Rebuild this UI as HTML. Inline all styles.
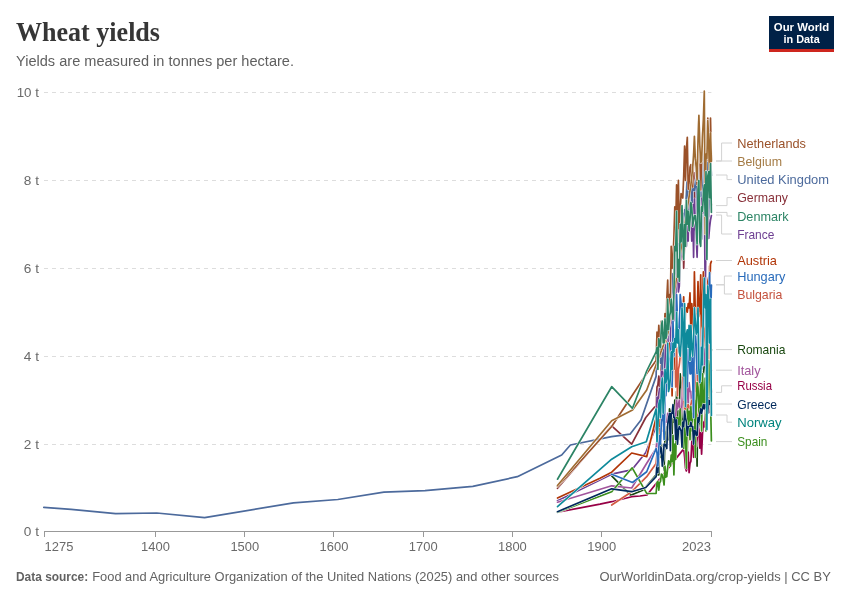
<!DOCTYPE html>
<html><head><meta charset="utf-8"><title>Wheat yields</title>
<style>
html,body{margin:0;padding:0;background:#fff;}
body{width:850px;height:600px;overflow:hidden;font-family:"Liberation Sans",sans-serif;}
svg{display:block;will-change:transform;font-family:"Liberation Sans",sans-serif;}
.serif{font-family:"Liberation Serif",serif;}
.ln{fill:none;stroke-width:1.7;stroke-linejoin:round;stroke-linecap:round;}
.ol{fill:none;stroke:#fff;stroke-width:2.5;stroke-linejoin:round;stroke-linecap:round;}
.grid line{stroke:#ddd;stroke-width:1;stroke-dasharray:4 4;}
.ax{fill:#6a6a6a;font-size:12.4px;}
.cn{fill:none;stroke:#d2d2d2;stroke-width:1;}
.lb{font-size:13.3px;}
</style></head><body>
<svg width="850" height="600" viewBox="0 0 850 600">
<rect width="850" height="600" fill="#fff"/>
<text class="serif" x="16" y="40.6" font-size="27.5" font-weight="700" fill="#363636" textLength="144" lengthAdjust="spacingAndGlyphs">Wheat yields</text>
<text x="16" y="66.4" font-size="14" fill="#606060" textLength="278" lengthAdjust="spacingAndGlyphs">Yields are measured in tonnes per hectare.</text>
<g><rect x="769" y="16" width="65" height="36" fill="#002147"/><rect x="769" y="49" width="65" height="3" fill="#ce261e"/><text x="801.5" y="30.7" font-size="11.8" font-weight="700" fill="#fff" text-anchor="middle" textLength="55.3" lengthAdjust="spacingAndGlyphs">Our World</text><text x="801.6" y="42.8" font-size="11.8" font-weight="700" fill="#fff" text-anchor="middle" textLength="36.3" lengthAdjust="spacingAndGlyphs">in Data</text></g>
<g class="grid"><line x1="44" x2="711.4" y1="444.5" y2="444.5"/><line x1="44" x2="711.4" y1="356.5" y2="356.5"/><line x1="44" x2="711.4" y1="268.5" y2="268.5"/><line x1="44" x2="711.4" y1="180.5" y2="180.5"/><line x1="44" x2="711.4" y1="92.5" y2="92.5"/></g>
<text class="ax" x="39" y="536.4" text-anchor="end" textLength="15.2" lengthAdjust="spacingAndGlyphs">0 t</text><text class="ax" x="39" y="448.5" text-anchor="end" textLength="15.2" lengthAdjust="spacingAndGlyphs">2 t</text><text class="ax" x="39" y="360.6" text-anchor="end" textLength="15.2" lengthAdjust="spacingAndGlyphs">4 t</text><text class="ax" x="39" y="272.7" text-anchor="end" textLength="15.2" lengthAdjust="spacingAndGlyphs">6 t</text><text class="ax" x="39" y="184.8" text-anchor="end" textLength="15.2" lengthAdjust="spacingAndGlyphs">8 t</text><text class="ax" x="39" y="96.9" text-anchor="end" textLength="22.3" lengthAdjust="spacingAndGlyphs">10 t</text>
<g stroke="#999" stroke-width="1" fill="none"><path d="M44,531.5H711.9"/><path d="M44.5,531.5v5.5"/><path d="M155.5,531.5v5.5"/><path d="M244.5,531.5v5.5"/><path d="M333.5,531.5v5.5"/><path d="M423.5,531.5v5.5"/><path d="M512.5,531.5v5.5"/><path d="M601.5,531.5v5.5"/><path d="M711.5,531.5v5.5"/></g>
<text class="ax" x="44.6" y="550.6" textLength="28.8" lengthAdjust="spacingAndGlyphs">1275</text><text class="ax" x="155.5" y="550.6" text-anchor="middle" textLength="28.8" lengthAdjust="spacingAndGlyphs">1400</text><text class="ax" x="244.8" y="550.6" text-anchor="middle" textLength="28.8" lengthAdjust="spacingAndGlyphs">1500</text><text class="ax" x="334.0" y="550.6" text-anchor="middle" textLength="28.8" lengthAdjust="spacingAndGlyphs">1600</text><text class="ax" x="423.2" y="550.6" text-anchor="middle" textLength="28.8" lengthAdjust="spacingAndGlyphs">1700</text><text class="ax" x="512.4" y="550.6" text-anchor="middle" textLength="28.8" lengthAdjust="spacingAndGlyphs">1800</text><text class="ax" x="601.7" y="550.6" text-anchor="middle" textLength="28.8" lengthAdjust="spacingAndGlyphs">1900</text><text class="ax" x="711" y="550.6" text-anchor="end" textLength="29" lengthAdjust="spacingAndGlyphs">2023</text>
<path class="ol" d="M557.5,488.3L611.7,425.8L631.7,444.2L645.8,417.5L654.2,407.5L656.1,406.3L657.0,387.0L657.9,384.8L658.8,376.0L659.6,389.2L660.5,387.0L661.4,358.4L662.3,349.6L663.2,358.4L664.1,365.0L665.0,334.2L665.9,351.8L666.8,338.6L667.7,325.4L668.6,338.6L669.5,351.8L670.4,338.6L671.2,316.6L672.1,325.4L673.0,316.6L673.9,314.4L674.8,299.1L675.7,296.9L676.6,263.9L677.5,272.7L678.4,263.9L679.3,281.5L680.2,241.9L681.1,259.5L682.0,255.1L682.8,233.1L683.7,268.3L684.6,241.9L685.5,233.1L686.4,228.7L687.3,211.2L688.2,211.2L689.1,215.6L690.0,202.4L690.9,212.0L691.8,185.7L692.7,228.3L693.6,246.3L694.4,172.9L695.3,203.7L696.2,215.6L697.1,226.1L698.0,176.4L698.9,188.8L699.8,210.7L700.7,223.5L701.6,209.8L702.5,180.4L703.4,152.7L704.3,176.4L705.2,196.2L706.0,196.2L706.9,238.9L707.8,206.8L708.7,188.3L709.6,211.2L710.5,198.0L711.4,205.0"/><path class="ln" stroke="#883039" d="M557.5,488.3L611.7,425.8L631.7,444.2L645.8,417.5L654.2,407.5L656.1,406.3L657.0,387.0L657.9,384.8L658.8,376.0L659.6,389.2L660.5,387.0L661.4,358.4L662.3,349.6L663.2,358.4L664.1,365.0L665.0,334.2L665.9,351.8L666.8,338.6L667.7,325.4L668.6,338.6L669.5,351.8L670.4,338.6L671.2,316.6L672.1,325.4L673.0,316.6L673.9,314.4L674.8,299.1L675.7,296.9L676.6,263.9L677.5,272.7L678.4,263.9L679.3,281.5L680.2,241.9L681.1,259.5L682.0,255.1L682.8,233.1L683.7,268.3L684.6,241.9L685.5,233.1L686.4,228.7L687.3,211.2L688.2,211.2L689.1,215.6L690.0,202.4L690.9,212.0L691.8,185.7L692.7,228.3L693.6,246.3L694.4,172.9L695.3,203.7L696.2,215.6L697.1,226.1L698.0,176.4L698.9,188.8L699.8,210.7L700.7,223.5L701.6,209.8L702.5,180.4L703.4,152.7L704.3,176.4L705.2,196.2L706.0,196.2L706.9,238.9L707.8,206.8L708.7,188.3L709.6,211.2L710.5,198.0L711.4,205.0"/>
<path class="ol" d="M43.8,507.4L71.2,509.4L115.6,513.7L156.8,513.0L204.6,517.6L293.5,502.8L337.8,499.5L383.9,492.2L425.0,490.6L472.8,486.3L517.3,476.7L561.7,455.0L570.4,445.0L611.5,436.6L630.0,434.2L641.0,420.0L656.1,376.4L657.0,340.8L657.9,358.8L658.8,345.7L659.6,353.6L660.5,363.2L661.4,348.3L662.3,376.4L663.2,354.4L664.1,347.8L665.0,339.1L665.9,345.7L666.8,340.4L667.7,313.6L668.6,341.3L669.5,362.8L670.4,316.6L671.2,300.8L672.1,302.6L673.0,273.6L673.9,275.3L674.8,259.5L675.7,252.0L676.6,193.1L677.5,253.8L678.4,226.1L679.3,268.7L680.2,258.2L681.1,235.8L682.0,225.7L682.8,213.4L683.7,232.3L684.6,209.8L685.5,209.0L686.4,193.6L687.3,173.8L688.2,207.6L689.1,199.7L690.0,178.2L690.9,180.0L691.8,220.8L692.7,180.4L693.6,190.1L694.4,190.5L695.3,182.2L696.2,178.6L697.1,214.2L698.0,168.1L698.9,183.5L699.8,194.9L700.7,191.4L701.6,239.3L702.5,207.6L703.4,154.9L704.3,137.3L705.2,185.2L706.0,168.1L706.9,191.4L707.8,139.5L708.7,226.1L709.6,188.8L710.5,154.0L711.4,175.6"/><path class="ln" stroke="#4C6A9C" d="M43.8,507.4L71.2,509.4L115.6,513.7L156.8,513.0L204.6,517.6L293.5,502.8L337.8,499.5L383.9,492.2L425.0,490.6L472.8,486.3L517.3,476.7L561.7,455.0L570.4,445.0L611.5,436.6L630.0,434.2L641.0,420.0L656.1,376.4L657.0,340.8L657.9,358.8L658.8,345.7L659.6,353.6L660.5,363.2L661.4,348.3L662.3,376.4L663.2,354.4L664.1,347.8L665.0,339.1L665.9,345.7L666.8,340.4L667.7,313.6L668.6,341.3L669.5,362.8L670.4,316.6L671.2,300.8L672.1,302.6L673.0,273.6L673.9,275.3L674.8,259.5L675.7,252.0L676.6,193.1L677.5,253.8L678.4,226.1L679.3,268.7L680.2,258.2L681.1,235.8L682.0,225.7L682.8,213.4L683.7,232.3L684.6,209.8L685.5,209.0L686.4,193.6L687.3,173.8L688.2,207.6L689.1,199.7L690.0,178.2L690.9,180.0L691.8,220.8L692.7,180.4L693.6,190.1L694.4,190.5L695.3,182.2L696.2,178.6L697.1,214.2L698.0,168.1L698.9,183.5L699.8,194.9L700.7,191.4L701.6,239.3L702.5,207.6L703.4,154.9L704.3,137.3L705.2,185.2L706.0,168.1L706.9,191.4L707.8,139.5L708.7,226.1L709.6,188.8L710.5,154.0L711.4,175.6"/>
<path class="ol" d="M611.7,475.8L630.8,495.3L643.3,490.0L656.1,474.9L657.0,474.9L657.9,474.9L658.8,474.9L659.6,444.1L660.5,457.3L661.4,444.1L662.3,457.3L663.2,461.7L664.1,470.5L665.0,435.3L665.9,426.5L666.8,430.9L667.7,439.7L668.6,439.7L669.5,408.9L670.4,413.3L671.2,413.3L672.1,435.3L673.0,404.5L673.9,422.1L674.8,400.1L675.7,426.5L676.6,391.4L677.5,426.5L678.4,413.3L679.3,408.9L680.2,373.8L681.1,382.6L682.0,391.4L682.8,422.1L683.7,435.3L684.6,430.9L685.5,422.1L686.4,395.8L687.3,452.9L688.2,400.1L689.1,417.7L690.0,408.9L690.9,430.9L691.8,400.1L692.7,448.5L693.6,455.1L694.4,382.6L695.3,400.1L696.2,413.3L697.1,466.1L698.0,382.6L698.9,426.5L699.8,413.3L700.7,369.4L701.6,413.3L702.5,378.2L703.4,373.8L704.3,365.0L705.2,360.6L706.0,316.6L706.9,321.0L707.8,325.4L708.7,400.1L709.6,299.1L710.5,356.2L711.4,349.6"/><path class="ln" stroke="#18470F" d="M611.7,475.8L630.8,495.3L643.3,490.0L656.1,474.9L657.0,474.9L657.9,474.9L658.8,474.9L659.6,444.1L660.5,457.3L661.4,444.1L662.3,457.3L663.2,461.7L664.1,470.5L665.0,435.3L665.9,426.5L666.8,430.9L667.7,439.7L668.6,439.7L669.5,408.9L670.4,413.3L671.2,413.3L672.1,435.3L673.0,404.5L673.9,422.1L674.8,400.1L675.7,426.5L676.6,391.4L677.5,426.5L678.4,413.3L679.3,408.9L680.2,373.8L681.1,382.6L682.0,391.4L682.8,422.1L683.7,435.3L684.6,430.9L685.5,422.1L686.4,395.8L687.3,452.9L688.2,400.1L689.1,417.7L690.0,408.9L690.9,430.9L691.8,400.1L692.7,448.5L693.6,455.1L694.4,382.6L695.3,400.1L696.2,413.3L697.1,466.1L698.0,382.6L698.9,426.5L699.8,413.3L700.7,369.4L701.6,413.3L702.5,378.2L703.4,373.8L704.3,365.0L705.2,360.6L706.0,316.6L706.9,321.0L707.8,325.4L708.7,400.1L709.6,299.1L710.5,356.2L711.4,349.6"/>
<path class="ol" d="M557.5,500.8L611.7,474.2L626.7,470.8L631.7,470.0L645.8,452.5L656.1,426.5L657.0,397.1L657.9,407.2L658.8,393.6L659.6,388.3L660.5,407.6L661.4,371.6L662.3,371.1L663.2,374.7L664.1,380.4L665.0,361.5L665.9,330.7L666.8,333.8L667.7,329.8L668.6,361.5L669.5,365.9L670.4,346.5L671.2,310.9L672.1,322.8L673.0,304.8L673.9,321.0L674.8,301.7L675.7,306.5L676.6,246.3L677.5,265.7L678.4,292.0L679.3,286.3L680.2,261.7L681.1,252.9L682.0,246.8L682.8,236.2L683.7,246.3L684.6,245.4L685.5,239.3L686.4,246.3L687.3,218.6L688.2,241.1L689.1,198.0L690.0,213.8L690.9,219.1L691.8,241.1L692.7,204.6L693.6,257.3L694.4,198.9L695.3,225.2L696.2,235.8L697.1,257.3L698.0,220.0L698.9,204.6L699.8,222.6L700.7,239.7L701.6,198.0L702.5,213.4L703.4,208.5L704.3,189.2L705.2,299.5L706.0,234.9L706.9,231.4L707.8,191.8L708.7,238.4L709.6,227.4L710.5,220.0L711.4,215.6"/><path class="ln" stroke="#6D3E91" d="M557.5,500.8L611.7,474.2L626.7,470.8L631.7,470.0L645.8,452.5L656.1,426.5L657.0,397.1L657.9,407.2L658.8,393.6L659.6,388.3L660.5,407.6L661.4,371.6L662.3,371.1L663.2,374.7L664.1,380.4L665.0,361.5L665.9,330.7L666.8,333.8L667.7,329.8L668.6,361.5L669.5,365.9L670.4,346.5L671.2,310.9L672.1,322.8L673.0,304.8L673.9,321.0L674.8,301.7L675.7,306.5L676.6,246.3L677.5,265.7L678.4,292.0L679.3,286.3L680.2,261.7L681.1,252.9L682.0,246.8L682.8,236.2L683.7,246.3L684.6,245.4L685.5,239.3L686.4,246.3L687.3,218.6L688.2,241.1L689.1,198.0L690.0,213.8L690.9,219.1L691.8,241.1L692.7,204.6L693.6,257.3L694.4,198.9L695.3,225.2L696.2,235.8L697.1,257.3L698.0,220.0L698.9,204.6L699.8,222.6L700.7,239.7L701.6,198.0L702.5,213.4L703.4,208.5L704.3,189.2L705.2,299.5L706.0,234.9L706.9,231.4L707.8,191.8L708.7,238.4L709.6,227.4L710.5,220.0L711.4,215.6"/>
<path class="ol" d="M557.5,486.7L611.7,426.5L646.7,373.5L656.1,360.6L657.0,332.0L657.9,347.4L658.8,325.4L659.6,338.6L660.5,356.2L661.4,321.0L662.3,338.6L663.2,338.6L664.1,334.2L665.0,313.6L665.9,343.0L666.8,299.1L667.7,280.2L668.6,316.6L669.5,294.7L670.4,299.1L671.2,246.3L672.1,268.3L673.0,259.5L673.9,237.5L674.8,206.8L675.7,224.3L676.6,184.8L677.5,241.9L678.4,180.4L679.3,228.7L680.2,211.2L681.1,193.6L682.0,195.8L682.8,198.0L683.7,176.0L684.6,146.1L685.5,180.4L686.4,149.6L687.3,137.3L688.2,189.2L689.1,189.2L690.0,167.2L690.9,164.6L691.8,184.8L692.7,187.0L693.6,158.4L694.4,140.8L695.3,160.6L696.2,169.4L697.1,184.8L698.0,143.0L698.9,118.9L699.8,147.4L700.7,190.1L701.6,162.8L702.5,138.6L703.4,121.1L704.3,136.4L705.2,180.4L706.0,156.2L706.9,160.6L707.8,118.0L708.7,143.0L709.6,171.6L710.5,118.0L711.4,160.6"/><path class="ln" stroke="#9A5129" d="M557.5,486.7L611.7,426.5L646.7,373.5L656.1,360.6L657.0,332.0L657.9,347.4L658.8,325.4L659.6,338.6L660.5,356.2L661.4,321.0L662.3,338.6L663.2,338.6L664.1,334.2L665.0,313.6L665.9,343.0L666.8,299.1L667.7,280.2L668.6,316.6L669.5,294.7L670.4,299.1L671.2,246.3L672.1,268.3L673.0,259.5L673.9,237.5L674.8,206.8L675.7,224.3L676.6,184.8L677.5,241.9L678.4,180.4L679.3,228.7L680.2,211.2L681.1,193.6L682.0,195.8L682.8,198.0L683.7,176.0L684.6,146.1L685.5,180.4L686.4,149.6L687.3,137.3L688.2,189.2L689.1,189.2L690.0,167.2L690.9,164.6L691.8,184.8L692.7,187.0L693.6,158.4L694.4,140.8L695.3,160.6L696.2,169.4L697.1,184.8L698.0,143.0L698.9,118.9L699.8,147.4L700.7,190.1L701.6,162.8L702.5,138.6L703.4,121.1L704.3,136.4L705.2,180.4L706.0,156.2L706.9,160.6L707.8,118.0L708.7,143.0L709.6,171.6L710.5,118.0L711.4,160.6"/>
<path class="ol" d="M557.5,485.5L611.7,420.8L632.5,410.0L646.7,390.0L668.0,333.0L690.9,184.8L691.8,176.0L692.7,167.2L693.6,154.9L694.4,136.4L695.3,158.4L696.2,167.2L697.1,180.4L698.0,140.8L698.9,115.4L699.8,145.2L700.7,162.8L701.6,160.6L702.5,136.4L703.4,118.9L704.3,91.2L705.2,234.0L706.0,154.0L706.9,158.4L707.8,120.6L708.7,140.8L709.6,184.8L710.5,132.9L711.4,161.5"/><path class="ln" stroke="#9F6B31" d="M557.5,485.5L611.7,420.8L632.5,410.0L646.7,390.0L668.0,333.0L690.9,184.8L691.8,176.0L692.7,167.2L693.6,154.9L694.4,136.4L695.3,158.4L696.2,167.2L697.1,180.4L698.0,140.8L698.9,115.4L699.8,145.2L700.7,162.8L701.6,160.6L702.5,136.4L703.4,118.9L704.3,91.2L705.2,234.0L706.0,154.0L706.9,158.4L707.8,120.6L708.7,140.8L709.6,184.8L710.5,132.9L711.4,161.5"/>
<path class="ol" d="M557.5,502.2L611.7,485.8L631.7,488.0L646.7,463.3L656.1,448.5L657.0,439.7L657.9,452.9L658.8,444.1L659.6,430.9L660.5,435.3L661.4,426.5L662.3,430.9L663.2,430.9L664.1,430.9L665.0,422.1L665.9,422.1L666.8,422.1L667.7,413.3L668.6,413.3L669.5,417.7L670.4,430.9L671.2,413.3L672.1,413.3L673.0,413.3L673.9,413.3L674.8,413.3L675.7,417.7L676.6,400.1L677.5,408.9L678.4,404.5L679.3,400.1L680.2,413.3L681.1,417.7L682.0,404.5L682.8,378.2L683.7,391.4L684.6,387.0L685.5,387.0L686.4,391.4L687.3,387.0L688.2,404.5L689.1,382.6L690.0,391.4L690.9,391.4L691.8,408.9L692.7,395.8L693.6,413.3L694.4,369.4L695.3,373.8L696.2,369.4L697.1,382.6L698.0,360.6L698.9,378.2L699.8,369.4L700.7,365.0L701.6,351.8L702.5,365.0L703.4,365.0L704.3,365.0L705.2,347.4L706.0,360.6L706.9,365.0L707.8,365.0L708.7,360.6L709.6,347.4L710.5,373.8L711.4,370.3"/><path class="ln" stroke="#A2559C" d="M557.5,502.2L611.7,485.8L631.7,488.0L646.7,463.3L656.1,448.5L657.0,439.7L657.9,452.9L658.8,444.1L659.6,430.9L660.5,435.3L661.4,426.5L662.3,430.9L663.2,430.9L664.1,430.9L665.0,422.1L665.9,422.1L666.8,422.1L667.7,413.3L668.6,413.3L669.5,417.7L670.4,430.9L671.2,413.3L672.1,413.3L673.0,413.3L673.9,413.3L674.8,413.3L675.7,417.7L676.6,400.1L677.5,408.9L678.4,404.5L679.3,400.1L680.2,413.3L681.1,417.7L682.0,404.5L682.8,378.2L683.7,391.4L684.6,387.0L685.5,387.0L686.4,391.4L687.3,387.0L688.2,404.5L689.1,382.6L690.0,391.4L690.9,391.4L691.8,408.9L692.7,395.8L693.6,413.3L694.4,369.4L695.3,373.8L696.2,369.4L697.1,382.6L698.0,360.6L698.9,378.2L699.8,369.4L700.7,365.0L701.6,351.8L702.5,365.0L703.4,365.0L704.3,365.0L705.2,347.4L706.0,360.6L706.9,365.0L707.8,365.0L708.7,360.6L709.6,347.4L710.5,373.8L711.4,370.3"/>
<path class="ol" d="M557.5,512.2L600.0,504.2L611.7,501.7L631.7,496.7L640.0,496.0L647.0,495.0L683.7,448.9L684.6,456.8L685.5,468.3L686.4,470.9L687.3,466.5L688.2,452.0L689.1,472.7L690.0,463.4L690.9,461.2L691.8,441.5L692.7,441.0L693.6,457.3L694.4,445.0L695.3,447.2L696.2,446.3L697.1,439.7L698.0,424.3L698.9,430.0L699.8,448.1L700.7,432.7L701.6,454.2L702.5,434.0L703.4,422.1L704.3,427.0L705.2,414.2L706.0,394.9L706.9,412.5L707.8,413.3L708.7,401.0L709.6,412.5L710.5,378.2L711.4,392.2"/><path class="ln" stroke="#970046" d="M557.5,512.2L600.0,504.2L611.7,501.7L631.7,496.7L640.0,496.0L647.0,495.0L683.7,448.9L684.6,456.8L685.5,468.3L686.4,470.9L687.3,466.5L688.2,452.0L689.1,472.7L690.0,463.4L690.9,461.2L691.8,441.5L692.7,441.0L693.6,457.3L694.4,445.0L695.3,447.2L696.2,446.3L697.1,439.7L698.0,424.3L698.9,430.0L699.8,448.1L700.7,432.7L701.6,454.2L702.5,434.0L703.4,422.1L704.3,427.0L705.2,414.2L706.0,394.9L706.9,412.5L707.8,413.3L708.7,401.0L709.6,412.5L710.5,378.2L711.4,392.2"/>
<path class="ol" d="M611.7,505.0L631.7,491.7L646.7,476.7L656.1,463.4L657.0,452.9L657.9,461.7L658.8,452.9L659.6,422.1L660.5,408.9L661.4,400.1L662.3,426.5L663.2,422.1L664.1,404.5L665.0,395.8L665.9,373.8L666.8,373.8L667.7,382.6L668.6,378.2L669.5,365.0L670.4,360.6L671.2,373.8L672.1,382.6L673.0,356.2L673.9,343.0L674.8,329.8L675.7,387.0L676.6,347.4L677.5,395.8L678.4,369.4L679.3,365.0L680.2,356.2L681.1,325.4L682.0,334.2L682.8,369.4L683.7,395.8L684.6,408.9L685.5,408.9L686.4,404.5L687.3,448.5L688.2,404.5L689.1,408.9L690.0,408.9L690.9,404.5L691.8,400.1L692.7,400.1L693.6,426.5L694.4,365.0L695.3,391.4L696.2,382.6L697.1,435.3L698.0,347.4L698.9,391.4L699.8,373.8L700.7,360.6L701.6,365.0L702.5,347.4L703.4,347.4L704.3,334.2L705.2,321.0L706.0,294.7L706.9,321.0L707.8,307.9L708.7,360.6L709.6,266.1L710.5,299.1L711.4,285.0"/><path class="ln" stroke="#D25A41" d="M611.7,505.0L631.7,491.7L646.7,476.7L656.1,463.4L657.0,452.9L657.9,461.7L658.8,452.9L659.6,422.1L660.5,408.9L661.4,400.1L662.3,426.5L663.2,422.1L664.1,404.5L665.0,395.8L665.9,373.8L666.8,373.8L667.7,382.6L668.6,378.2L669.5,365.0L670.4,360.6L671.2,373.8L672.1,382.6L673.0,356.2L673.9,343.0L674.8,329.8L675.7,387.0L676.6,347.4L677.5,395.8L678.4,369.4L679.3,365.0L680.2,356.2L681.1,325.4L682.0,334.2L682.8,369.4L683.7,395.8L684.6,408.9L685.5,408.9L686.4,404.5L687.3,448.5L688.2,404.5L689.1,408.9L690.0,408.9L690.9,404.5L691.8,400.1L692.7,400.1L693.6,426.5L694.4,365.0L695.3,391.4L696.2,382.6L697.1,435.3L698.0,347.4L698.9,391.4L699.8,373.8L700.7,360.6L701.6,365.0L702.5,347.4L703.4,347.4L704.3,334.2L705.2,321.0L706.0,294.7L706.9,321.0L707.8,307.9L708.7,360.6L709.6,266.1L710.5,299.1L711.4,285.0"/>
<path class="ol" d="M557.5,512.3L611.7,491.7L632.2,467.8L646.7,493.3L656.1,493.5L657.0,482.3L657.9,481.5L658.8,490.2L659.6,482.8L660.5,481.5L661.4,474.0L662.3,474.9L663.2,479.3L664.1,485.0L665.0,466.1L665.9,477.1L666.8,476.6L667.7,467.4L668.6,460.8L669.5,461.7L670.4,466.1L671.2,455.1L672.1,461.7L673.0,435.3L673.9,474.9L674.8,444.1L675.7,459.5L676.6,417.7L677.5,417.7L678.4,439.7L679.3,417.7L680.2,408.9L681.1,426.5L682.0,426.5L682.8,422.1L683.7,448.5L684.6,422.1L685.5,435.3L686.4,468.3L687.3,408.9L688.2,435.3L689.1,411.1L690.0,439.7L690.9,406.7L691.8,430.9L692.7,413.3L693.6,413.3L694.4,400.1L695.3,457.3L696.2,404.5L697.1,382.6L698.0,387.0L698.9,413.3L699.8,400.1L700.7,382.6L701.6,430.9L702.5,373.8L703.4,400.1L704.3,404.5L705.2,378.2L706.0,430.9L706.9,365.0L707.8,395.8L708.7,360.6L709.6,369.4L710.5,400.1L711.4,441.0"/><path class="ln" stroke="#3B8E1D" d="M557.5,512.3L611.7,491.7L632.2,467.8L646.7,493.3L656.1,493.5L657.0,482.3L657.9,481.5L658.8,490.2L659.6,482.8L660.5,481.5L661.4,474.0L662.3,474.9L663.2,479.3L664.1,485.0L665.0,466.1L665.9,477.1L666.8,476.6L667.7,467.4L668.6,460.8L669.5,461.7L670.4,466.1L671.2,455.1L672.1,461.7L673.0,435.3L673.9,474.9L674.8,444.1L675.7,459.5L676.6,417.7L677.5,417.7L678.4,439.7L679.3,417.7L680.2,408.9L681.1,426.5L682.0,426.5L682.8,422.1L683.7,448.5L684.6,422.1L685.5,435.3L686.4,468.3L687.3,408.9L688.2,435.3L689.1,411.1L690.0,439.7L690.9,406.7L691.8,430.9L692.7,413.3L693.6,413.3L694.4,400.1L695.3,457.3L696.2,404.5L697.1,382.6L698.0,387.0L698.9,413.3L699.8,400.1L700.7,382.6L701.6,430.9L702.5,373.8L703.4,400.1L704.3,404.5L705.2,378.2L706.0,430.9L706.9,365.0L707.8,395.8L708.7,360.6L709.6,369.4L710.5,400.1L711.4,441.0"/>
<path class="ol" d="M557.5,498.0L600.0,478.3L611.7,472.2L631.7,453.0L646.7,456.7L656.1,417.7L657.0,417.7L657.9,422.1L658.8,413.3L659.6,426.5L660.5,400.1L661.4,387.0L662.3,387.0L663.2,387.0L664.1,404.5L665.0,378.2L665.9,391.4L666.8,382.6L667.7,356.2L668.6,378.2L669.5,343.0L670.4,369.4L671.2,347.4L672.1,395.8L673.0,338.6L673.9,369.4L674.8,343.0L675.7,334.2L676.6,312.2L677.5,316.6L678.4,338.6L679.3,334.2L680.2,294.7L681.1,312.2L682.0,307.9L682.8,312.2L683.7,296.9L684.6,343.0L685.5,307.9L686.4,307.9L687.3,312.2L688.2,303.5L689.1,307.9L690.0,292.9L690.9,334.2L691.8,303.5L692.7,316.6L693.6,338.6L694.4,271.8L695.3,312.2L696.2,316.6L697.1,321.0L698.0,281.5L698.9,316.6L699.8,312.2L700.7,274.9L701.6,351.8L702.5,299.1L703.4,271.8L704.3,294.7L705.2,294.7L706.0,316.6L706.9,325.4L707.8,281.5L708.7,277.1L709.6,294.7L710.5,263.9L711.4,261.3"/><path class="ln" stroke="#B13507" d="M557.5,498.0L600.0,478.3L611.7,472.2L631.7,453.0L646.7,456.7L656.1,417.7L657.0,417.7L657.9,422.1L658.8,413.3L659.6,426.5L660.5,400.1L661.4,387.0L662.3,387.0L663.2,387.0L664.1,404.5L665.0,378.2L665.9,391.4L666.8,382.6L667.7,356.2L668.6,378.2L669.5,343.0L670.4,369.4L671.2,347.4L672.1,395.8L673.0,338.6L673.9,369.4L674.8,343.0L675.7,334.2L676.6,312.2L677.5,316.6L678.4,338.6L679.3,334.2L680.2,294.7L681.1,312.2L682.0,307.9L682.8,312.2L683.7,296.9L684.6,343.0L685.5,307.9L686.4,307.9L687.3,312.2L688.2,303.5L689.1,307.9L690.0,292.9L690.9,334.2L691.8,303.5L692.7,316.6L693.6,338.6L694.4,271.8L695.3,312.2L696.2,316.6L697.1,321.0L698.0,281.5L698.9,316.6L699.8,312.2L700.7,274.9L701.6,351.8L702.5,299.1L703.4,271.8L704.3,294.7L705.2,294.7L706.0,316.6L706.9,325.4L707.8,281.5L708.7,277.1L709.6,294.7L710.5,263.9L711.4,261.3"/>
<path class="ol" d="M557.5,479.2L611.7,386.7L632.5,408.3L646.7,371.0L656.1,351.8L657.0,347.4L657.9,369.4L658.8,338.6L659.6,343.0L660.5,347.4L661.4,325.4L662.3,321.0L663.2,343.0L664.1,343.0L665.0,318.8L665.9,338.6L666.8,334.2L667.7,299.1L668.6,329.8L669.5,316.6L670.4,312.2L671.2,299.1L672.1,312.2L673.0,321.0L673.9,294.7L674.8,246.3L675.7,250.7L676.6,211.2L677.5,277.1L678.4,259.5L679.3,281.5L680.2,224.3L681.1,241.9L682.0,205.5L682.8,233.1L683.7,259.5L684.6,224.3L685.5,246.3L686.4,200.2L687.3,224.3L688.2,211.2L689.1,230.9L690.0,220.0L690.9,202.4L691.8,206.8L692.7,226.5L693.6,220.0L694.4,215.6L695.3,215.6L696.2,228.7L697.1,244.1L698.0,189.2L698.9,180.4L699.8,241.9L700.7,246.3L701.6,206.8L702.5,211.2L703.4,193.6L704.3,184.8L705.2,215.6L706.0,171.6L706.9,259.5L707.8,176.0L708.7,171.6L709.6,198.0L710.5,163.7L711.4,212.5"/><path class="ln" stroke="#2C8465" d="M557.5,479.2L611.7,386.7L632.5,408.3L646.7,371.0L656.1,351.8L657.0,347.4L657.9,369.4L658.8,338.6L659.6,343.0L660.5,347.4L661.4,325.4L662.3,321.0L663.2,343.0L664.1,343.0L665.0,318.8L665.9,338.6L666.8,334.2L667.7,299.1L668.6,329.8L669.5,316.6L670.4,312.2L671.2,299.1L672.1,312.2L673.0,321.0L673.9,294.7L674.8,246.3L675.7,250.7L676.6,211.2L677.5,277.1L678.4,259.5L679.3,281.5L680.2,224.3L681.1,241.9L682.0,205.5L682.8,233.1L683.7,259.5L684.6,224.3L685.5,246.3L686.4,200.2L687.3,224.3L688.2,211.2L689.1,230.9L690.0,220.0L690.9,202.4L691.8,206.8L692.7,226.5L693.6,220.0L694.4,215.6L695.3,215.6L696.2,228.7L697.1,244.1L698.0,189.2L698.9,180.4L699.8,241.9L700.7,246.3L701.6,206.8L702.5,211.2L703.4,193.6L704.3,184.8L705.2,215.6L706.0,171.6L706.9,259.5L707.8,176.0L708.7,171.6L709.6,198.0L710.5,163.7L711.4,212.5"/>
<path class="ol" d="M557.5,511.7L611.7,488.8L631.7,491.7L645.8,487.5L656.1,476.6L657.0,463.9L657.9,472.7L658.8,450.7L659.6,454.2L660.5,446.3L661.4,448.5L662.3,466.1L663.2,459.5L664.1,444.1L665.0,444.1L665.9,446.3L666.8,448.5L667.7,424.3L668.6,417.7L669.5,413.3L670.4,450.7L671.2,413.3L672.1,413.3L673.0,404.5L673.9,417.7L674.8,417.7L675.7,439.7L676.6,419.9L677.5,444.1L678.4,430.9L679.3,426.5L680.2,428.7L681.1,430.9L682.0,447.2L682.8,422.1L683.7,426.5L684.6,411.1L685.5,417.7L686.4,422.1L687.3,435.3L688.2,426.5L689.1,426.5L690.0,426.5L690.9,422.1L691.8,426.5L692.7,426.5L693.6,444.1L694.4,430.9L695.3,430.9L696.2,435.3L697.1,435.3L698.0,417.7L698.9,422.1L699.8,413.3L700.7,408.9L701.6,413.3L702.5,408.9L703.4,404.5L704.3,408.9L705.2,404.5L706.0,404.5L706.9,413.3L707.8,413.3L708.7,400.1L709.6,404.5L710.5,400.1L711.4,404.1"/><path class="ln" stroke="#00295B" d="M557.5,511.7L611.7,488.8L631.7,491.7L645.8,487.5L656.1,476.6L657.0,463.9L657.9,472.7L658.8,450.7L659.6,454.2L660.5,446.3L661.4,448.5L662.3,466.1L663.2,459.5L664.1,444.1L665.0,444.1L665.9,446.3L666.8,448.5L667.7,424.3L668.6,417.7L669.5,413.3L670.4,450.7L671.2,413.3L672.1,413.3L673.0,404.5L673.9,417.7L674.8,417.7L675.7,439.7L676.6,419.9L677.5,444.1L678.4,430.9L679.3,426.5L680.2,428.7L681.1,430.9L682.0,447.2L682.8,422.1L683.7,426.5L684.6,411.1L685.5,417.7L686.4,422.1L687.3,435.3L688.2,426.5L689.1,426.5L690.0,426.5L690.9,422.1L691.8,426.5L692.7,426.5L693.6,444.1L694.4,430.9L695.3,430.9L696.2,435.3L697.1,435.3L698.0,417.7L698.9,422.1L699.8,413.3L700.7,408.9L701.6,413.3L702.5,408.9L703.4,404.5L704.3,408.9L705.2,404.5L706.0,404.5L706.9,413.3L707.8,413.3L708.7,400.1L709.6,404.5L710.5,400.1L711.4,404.1"/>
<path class="ol" d="M611.7,474.2L632.5,482.5L646.7,471.7L656.1,448.5L657.0,452.9L657.9,466.1L658.8,448.5L659.6,435.3L660.5,444.1L661.4,422.1L662.3,417.7L663.2,413.3L664.1,439.7L665.0,395.8L665.9,395.8L666.8,378.2L667.7,365.0L668.6,391.4L669.5,360.6L670.4,356.2L671.2,343.0L672.1,387.0L673.0,321.0L673.9,356.2L674.8,338.6L675.7,338.6L676.6,294.7L677.5,321.0L678.4,338.6L679.3,338.6L680.2,294.7L681.1,303.5L682.0,312.2L682.8,303.5L683.7,351.8L684.6,400.1L685.5,329.8L686.4,351.8L687.3,387.0L688.2,347.4L689.1,351.8L690.0,373.8L690.9,373.8L691.8,343.0L692.7,378.2L693.6,417.7L694.4,307.9L695.3,334.2L696.2,351.8L697.1,373.8L698.0,312.2L698.9,365.0L699.8,369.4L700.7,347.4L701.6,369.4L702.5,329.8L703.4,325.4L704.3,303.5L705.2,294.7L706.0,294.7L706.9,307.9L707.8,303.5L708.7,294.7L709.6,272.7L710.5,334.2L711.4,285.0"/><path class="ln" stroke="#286BBB" d="M611.7,474.2L632.5,482.5L646.7,471.7L656.1,448.5L657.0,452.9L657.9,466.1L658.8,448.5L659.6,435.3L660.5,444.1L661.4,422.1L662.3,417.7L663.2,413.3L664.1,439.7L665.0,395.8L665.9,395.8L666.8,378.2L667.7,365.0L668.6,391.4L669.5,360.6L670.4,356.2L671.2,343.0L672.1,387.0L673.0,321.0L673.9,356.2L674.8,338.6L675.7,338.6L676.6,294.7L677.5,321.0L678.4,338.6L679.3,338.6L680.2,294.7L681.1,303.5L682.0,312.2L682.8,303.5L683.7,351.8L684.6,400.1L685.5,329.8L686.4,351.8L687.3,387.0L688.2,347.4L689.1,351.8L690.0,373.8L690.9,373.8L691.8,343.0L692.7,378.2L693.6,417.7L694.4,307.9L695.3,334.2L696.2,351.8L697.1,373.8L698.0,312.2L698.9,365.0L699.8,369.4L700.7,347.4L701.6,369.4L702.5,329.8L703.4,325.4L704.3,303.5L705.2,294.7L706.0,294.7L706.9,307.9L707.8,303.5L708.7,294.7L709.6,272.7L710.5,334.2L711.4,285.0"/>
<path class="ol" d="M557.5,506.7L611.7,459.2L631.7,446.7L646.3,441.7L656.1,408.9L657.0,441.9L657.9,426.5L658.8,404.5L659.6,400.1L660.5,417.7L661.4,387.0L662.3,378.2L663.2,413.3L664.1,400.1L665.0,369.4L665.9,382.6L666.8,378.2L667.7,343.0L668.6,391.4L669.5,387.0L670.4,378.2L671.2,351.8L672.1,369.4L673.0,343.0L673.9,351.8L674.8,338.6L675.7,347.4L676.6,312.2L677.5,343.0L678.4,329.8L679.3,351.8L680.2,356.2L681.1,343.0L682.0,307.9L682.8,325.4L683.7,376.0L684.6,303.5L685.5,406.7L686.4,334.2L687.3,329.8L688.2,347.4L689.1,325.4L690.0,360.6L690.9,325.4L691.8,347.4L692.7,356.2L693.6,338.6L694.4,307.9L695.3,321.0L696.2,334.2L697.1,329.8L698.0,307.9L698.9,369.4L699.8,382.6L700.7,373.8L701.6,347.4L702.5,365.0L703.4,303.5L704.3,278.0L705.2,307.9L706.0,294.7L706.9,429.6L707.8,285.9L708.7,299.1L709.6,343.0L710.5,299.1L711.4,415.5"/><path class="ln" stroke="#0E8A9B" d="M557.5,506.7L611.7,459.2L631.7,446.7L646.3,441.7L656.1,408.9L657.0,441.9L657.9,426.5L658.8,404.5L659.6,400.1L660.5,417.7L661.4,387.0L662.3,378.2L663.2,413.3L664.1,400.1L665.0,369.4L665.9,382.6L666.8,378.2L667.7,343.0L668.6,391.4L669.5,387.0L670.4,378.2L671.2,351.8L672.1,369.4L673.0,343.0L673.9,351.8L674.8,338.6L675.7,347.4L676.6,312.2L677.5,343.0L678.4,329.8L679.3,351.8L680.2,356.2L681.1,343.0L682.0,307.9L682.8,325.4L683.7,376.0L684.6,303.5L685.5,406.7L686.4,334.2L687.3,329.8L688.2,347.4L689.1,325.4L690.0,360.6L690.9,325.4L691.8,347.4L692.7,356.2L693.6,338.6L694.4,307.9L695.3,321.0L696.2,334.2L697.1,329.8L698.0,307.9L698.9,369.4L699.8,382.6L700.7,373.8L701.6,347.4L702.5,365.0L703.4,303.5L704.3,278.0L705.2,307.9L706.0,294.7L706.9,429.6L707.8,285.9L708.7,299.1L709.6,343.0L710.5,299.1L711.4,415.5"/>
<g class="cn"><path d="M716,161.0H721.6V143.0H732"/><path d="M716,161.0H732"/><path d="M716,175.0H727.0V179.6H732"/><path d="M716,205.6H727.0V197.6H732"/><path d="M716,212.4H727.0V216.0H732"/><path d="M716,215.0H721.6V234.0H732"/><path d="M716,260.5H732"/><path d="M716,284.8H724.4V276.0H732"/><path d="M716,284.8H724.4V294.0H732"/><path d="M716,349.6H732"/><path d="M716,370.2H732"/><path d="M716,392.4H721.6V385.8H732"/><path d="M716,404.0H732"/><path d="M716,415.0H727.0V422.2H732"/><path d="M716,441.6H732"/></g>
<text class="lb" x="737.2" y="147.6" fill="#9A5129" textLength="68.8" lengthAdjust="spacingAndGlyphs">Netherlands</text><text class="lb" x="737.2" y="165.6" fill="#A47B45" textLength="44.8" lengthAdjust="spacingAndGlyphs">Belgium</text><text class="lb" x="737.2" y="184.2" fill="#4C6A9C" textLength="91.8" lengthAdjust="spacingAndGlyphs">United Kingdom</text><text class="lb" x="737.2" y="202.2" fill="#883039" textLength="50.8" lengthAdjust="spacingAndGlyphs">Germany</text><text class="lb" x="737.2" y="220.6" fill="#2C8465" textLength="51.4" lengthAdjust="spacingAndGlyphs">Denmark</text><text class="lb" x="737.2" y="238.6" fill="#6D3E91" textLength="37.2" lengthAdjust="spacingAndGlyphs">France</text><text class="lb" x="737.2" y="265.1" fill="#B13507" textLength="39.8" lengthAdjust="spacingAndGlyphs">Austria</text><text class="lb" x="737.2" y="280.6" fill="#286BBB" textLength="48.2" lengthAdjust="spacingAndGlyphs">Hungary</text><text class="lb" x="737.2" y="298.6" fill="#C4523E" textLength="45.2" lengthAdjust="spacingAndGlyphs">Bulgaria</text><text class="lb" x="737.2" y="354.2" fill="#18470F" textLength="48.2" lengthAdjust="spacingAndGlyphs">Romania</text><text class="lb" x="737.2" y="374.8" fill="#A2559C" textLength="23.4" lengthAdjust="spacingAndGlyphs">Italy</text><text class="lb" x="737.2" y="390.4" fill="#970046" textLength="34.8" lengthAdjust="spacingAndGlyphs">Russia</text><text class="lb" x="737.2" y="408.6" fill="#00295B" textLength="39.8" lengthAdjust="spacingAndGlyphs">Greece</text><text class="lb" x="737.2" y="426.8" fill="#00847E" textLength="44.4" lengthAdjust="spacingAndGlyphs">Norway</text><text class="lb" x="737.2" y="446.2" fill="#3B8E1D" textLength="30.2" lengthAdjust="spacingAndGlyphs">Spain</text>
<text x="16" y="580.7" font-size="12.6" fill="#626262"><tspan font-weight="700" textLength="72.2" lengthAdjust="spacingAndGlyphs">Data source:</tspan></text><text x="92.2" y="580.7" font-size="12.6" fill="#626262" textLength="466.8" lengthAdjust="spacingAndGlyphs">Food and Agriculture Organization of the United Nations (2025) and other sources</text><text x="830.8" y="580.7" font-size="12.6" fill="#626262" text-anchor="end" textLength="231.4" lengthAdjust="spacingAndGlyphs">OurWorldinData.org/crop-yields | CC BY</text>
</svg></body></html>
